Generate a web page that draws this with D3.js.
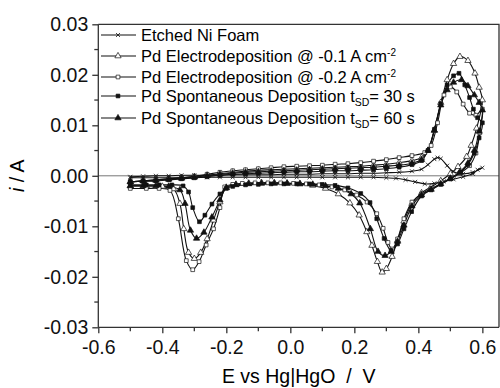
<!DOCTYPE html>
<html>
<head>
<meta charset="utf-8">
<script src="https://cdn.jsdelivr.net/npm/d3@7"></script>
<style>
	body { margin: 0; background: #fff; }
	svg { font-family: "Liberation Sans", Arial, sans-serif; }
	.curve { fill: none; stroke: #111; stroke-width: 1.1; }
	.zero-line { stroke: #777; stroke-width: 1; }
	.axis path, .axis line { stroke: #333; stroke-width: 1.3; }
	.axis text { fill: #111; }
</style>
</head>
<body>
<div id="chart"></div>
<script>

// DATA  (E in V vs Hg|HgO, i in A) -- anodic sweep then cathodic sweep
const seriesNames = [
	"Etched Ni Foam",
	"Pd Electrodeposition @ -0.1 A cm",
	"Pd Electrodeposition @ -0.2 A cm",
	"Pd Spontaneous Deposition t",
	"Pd Spontaneous Deposition t"
];
const seriesSup = ["", "-2", "-2", "", ""];
const seriesSub = ["", "", "", "SD", "SD"];
const seriesTail = ["", "", "", "= 30 s", "= 60 s"];
const seriesMarkers = ["times", "triangleOpen", "squareOpen", "squareFilled", "triangleFilled"];

const niFoam = [
	[-0.5,-0.0002],[-0.46,-0.0001],[-0.42,0.0],[-0.38,0.0],[-0.34,0.0001],[-0.3,0.0001],[-0.26,0.0001],
	[-0.22,0.0001],[-0.18,0.0002],[-0.14,0.0002],[-0.1,0.0002],[-0.06,0.0002],[-0.02,0.0003],[0.02,0.0003],
	[0.06,0.0003],[0.1,0.0004],[0.14,0.0004],[0.18,0.0004],[0.22,0.0005],[0.26,0.0005],[0.3,0.0006],
	[0.34,0.0007],[0.38,0.0009],[0.41,0.0013],[0.43,0.0022],[0.45,0.0033],[0.46,0.0036],[0.47,0.0034],
	[0.49,0.0020],[0.51,0.0008],[0.54,0.0004],[0.57,0.0007],[0.6,0.0016],
	[0.585,0.0012],[0.57,0.0004],[0.54,-0.0002],[0.51,-0.0007],[0.48,-0.0011],[0.45,-0.0015],[0.42,-0.0016],
	[0.39,-0.0012],[0.36,-0.0008],[0.33,-0.0005],[0.3,-0.0004],[0.26,-0.0003],[0.22,-0.0003],[0.18,-0.0003],
	[0.14,-0.0003],[0.1,-0.0003],[0.06,-0.0003],[0.02,-0.0003],[-0.02,-0.0003],[-0.06,-0.0003],[-0.1,-0.0003],
	[-0.14,-0.0003],[-0.18,-0.0003],[-0.22,-0.0003],[-0.26,-0.0003],[-0.3,-0.0004],[-0.34,-0.0004],
	[-0.38,-0.0004],[-0.42,-0.0004],[-0.46,-0.0004],[-0.5,-0.0004]
];

const pdEd01 = [
	[-0.5,-0.0012],[-0.46,-0.0010],[-0.42,-0.0008],[-0.38,-0.0006],[-0.34,-0.0004],[-0.3,-0.0002],[-0.26,0.0001],
	[-0.22,0.0004],[-0.18,0.0007],[-0.14,0.0009],[-0.1,0.0011],[-0.06,0.0012],[-0.02,0.0013],[0.02,0.0014],
	[0.06,0.0015],[0.1,0.0016],[0.14,0.0017],[0.18,0.0018],[0.22,0.0019],[0.26,0.0021],[0.3,0.0023],
	[0.34,0.0026],[0.38,0.0030],[0.41,0.0036],[0.43,0.0050],[0.45,0.0090],[0.47,0.0145],[0.49,0.0190],
	[0.51,0.0222],[0.53,0.0236],[0.555,0.0228],[0.577,0.0203],[0.59,0.0175],[0.6,0.0150],
	[0.582,0.0094],[0.565,0.0060],[0.551,0.0038],[0.524,0.0018],[0.5,0.0004],[0.47,-0.0010],[0.44,-0.0022],
	[0.41,-0.0034],[0.38,-0.0055],[0.355,-0.0090],[0.335,-0.0128],[0.318,-0.0160],[0.3,-0.0184],[0.287,-0.0191],
	[0.272,-0.0170],[0.255,-0.0138],[0.239,-0.0111],[0.215,-0.0078],[0.186,-0.0054],[0.15,-0.0036],[0.11,-0.0025],
	[0.07,-0.0019],[0.03,-0.0016],[-0.01,-0.0015],[-0.05,-0.0014],[-0.09,-0.0014],[-0.13,-0.0015],[-0.17,-0.0017],
	[-0.2,-0.0023],[-0.22,-0.0052],[-0.24,-0.0088],[-0.26,-0.0125],[-0.28,-0.0152],[-0.3,-0.0164],[-0.318,-0.0152],
	[-0.333,-0.0105],[-0.345,-0.0055],[-0.365,-0.0026],[-0.4,-0.0021],[-0.45,-0.0020],[-0.5,-0.0020]
];

const pdEd02 = [
	[-0.5,-0.0012],[-0.46,-0.0010],[-0.42,-0.0008],[-0.38,-0.0006],[-0.34,-0.0004],[-0.3,-0.0001],[-0.26,0.0003],
	[-0.22,0.0007],[-0.18,0.0010],[-0.14,0.0012],[-0.1,0.0014],[-0.06,0.0016],[-0.02,0.0018],[0.02,0.0019],
	[0.06,0.0020],[0.1,0.0021],[0.14,0.0023],[0.18,0.0024],[0.22,0.0026],[0.26,0.0029],[0.3,0.0032],
	[0.34,0.0036],[0.38,0.0040],[0.42,0.0046],[0.44,0.0060],[0.46,0.0105],[0.48,0.0160],[0.5,0.0176],
	[0.52,0.0166],[0.54,0.0142],[0.56,0.0124],[0.58,0.0120],[0.6,0.0132],
	[0.592,0.0085],[0.58,0.0045],[0.56,0.0020],[0.53,0.0005],[0.5,-0.0006],[0.47,-0.0016],[0.44,-0.0025],
	[0.41,-0.0036],[0.38,-0.0052],[0.355,-0.0085],[0.335,-0.0125],[0.318,-0.0145],[0.305,-0.0132],[0.29,-0.0104],
	[0.27,-0.0075],[0.24,-0.0052],[0.207,-0.0038],[0.17,-0.0028],[0.13,-0.0022],[0.09,-0.0018],[0.05,-0.0016],
	[0.01,-0.0015],[-0.03,-0.0014],[-0.07,-0.0014],[-0.11,-0.0014],[-0.15,-0.0015],[-0.18,-0.0017],[-0.205,-0.0022],
	[-0.22,-0.0063],[-0.24,-0.0105],[-0.263,-0.0137],[-0.285,-0.0170],[-0.305,-0.0186],[-0.325,-0.0168],
	[-0.35,-0.0085],[-0.376,-0.0029],[-0.41,-0.0025],[-0.45,-0.0025],[-0.5,-0.0025]
];

const pdSd30 = [
	[-0.5,-0.0012],[-0.46,-0.0011],[-0.42,-0.0010],[-0.38,-0.0008],[-0.34,-0.0006],[-0.3,-0.0004],[-0.26,-0.0002],
	[-0.22,0.0001],[-0.18,0.0003],[-0.14,0.0004],[-0.1,0.0005],[-0.06,0.0006],[-0.02,0.0007],[0.02,0.0008],
	[0.06,0.0008],[0.1,0.0009],[0.14,0.0010],[0.18,0.0010],[0.22,0.0011],[0.26,0.0012],[0.3,0.0014],
	[0.34,0.0017],[0.38,0.0022],[0.41,0.0030],[0.43,0.0050],[0.45,0.0092],[0.47,0.0143],[0.49,0.0180],
	[0.51,0.0198],[0.527,0.0203],[0.545,0.0180],[0.56,0.0155],[0.572,0.0132],[0.585,0.0115],[0.6,0.0105],
	[0.59,0.0075],[0.575,0.0045],[0.555,0.0022],[0.53,0.0006],[0.5,-0.0006],[0.47,-0.0017],[0.44,-0.0028],
	[0.41,-0.0040],[0.379,-0.0071],[0.355,-0.0105],[0.335,-0.0135],[0.315,-0.0148],[0.293,-0.0124],[0.27,-0.0085],
	[0.249,-0.0053],[0.22,-0.0035],[0.18,-0.0024],[0.14,-0.0019],[0.1,-0.0017],[0.06,-0.0016],[0.02,-0.0016],
	[-0.02,-0.0016],[-0.06,-0.0016],[-0.1,-0.0017],[-0.14,-0.0018],[-0.18,-0.0021],[-0.2,-0.0025],[-0.22,-0.0036],
	[-0.245,-0.0056],[-0.267,-0.0078],[-0.284,-0.0091],[-0.305,-0.0063],[-0.318,-0.0032],[-0.335,-0.0020],
	[-0.37,-0.0018],[-0.41,-0.0018],[-0.45,-0.0018],[-0.5,-0.0018]
];

const pdSd60 = [
	[-0.5,-0.0012],[-0.46,-0.0010],[-0.42,-0.0009],[-0.38,-0.0007],[-0.34,-0.0005],[-0.3,-0.0003],[-0.26,0.0],
	[-0.22,0.0003],[-0.18,0.0005],[-0.14,0.0007],[-0.1,0.0008],[-0.06,0.0009],[-0.02,0.0010],[0.02,0.0011],
	[0.06,0.0012],[0.1,0.0013],[0.14,0.0014],[0.18,0.0015],[0.22,0.0016],[0.26,0.0017],[0.3,0.0019],
	[0.34,0.0021],[0.38,0.0025],[0.41,0.0032],[0.43,0.0050],[0.45,0.0090],[0.47,0.0140],[0.49,0.0170],
	[0.51,0.0185],[0.535,0.0190],[0.555,0.0178],[0.575,0.0160],[0.59,0.0145],[0.6,0.0130],
	[0.59,0.0088],[0.575,0.0050],[0.555,0.0025],[0.53,0.0008],[0.5,-0.0005],[0.47,-0.0016],[0.44,-0.0027],
	[0.41,-0.0038],[0.38,-0.0060],[0.355,-0.0098],[0.335,-0.0130],[0.315,-0.0150],[0.296,-0.0158],[0.274,-0.0150],
	[0.25,-0.0105],[0.217,-0.0054],[0.19,-0.0036],[0.15,-0.0025],[0.11,-0.0020],[0.07,-0.0017],[0.03,-0.0016],
	[-0.01,-0.0015],[-0.05,-0.0015],[-0.09,-0.0015],[-0.13,-0.0016],[-0.17,-0.0018],[-0.2,-0.0024],[-0.22,-0.0048],
	[-0.245,-0.0082],[-0.27,-0.0112],[-0.293,-0.0124],[-0.312,-0.0108],[-0.329,-0.0055],[-0.345,-0.0028],
	[-0.38,-0.0021],[-0.42,-0.0020],[-0.46,-0.0020],[-0.5,-0.0020]
];

const xTicks = [-0.6, -0.4, -0.2, 0.0, 0.2, 0.4, 0.6];
const xTickLabels = ["-0.6", "-0.4", "-0.2", "0.0", "0.2", "0.4", "0.6"];
const xMinorTicks = [-0.5, -0.3, -0.1, 0.1, 0.3, 0.5];
const yTicks = [-0.03, -0.02, -0.01, 0.0, 0.01, 0.02, 0.03];
const yTickLabels = ["-0.03", "-0.02", "-0.01", "0.00", "0.01", "0.02", "0.03"];
const yMinorTicks = [-0.025, -0.015, -0.005, 0.005, 0.015, 0.025];

let CVFigure = class CVFigure {

	constructor(mainDivId) {
		this.W = 500;
		this.H = 388;
		this.left = 98.3;
		this.right = 499;
		this.top = 24.3;
		this.bottom = 327.3;

		// Scales
		this.x = d3.scaleLinear().domain([-0.6, 0.652]).range([this.left, this.right]);
		this.y = d3.scaleLinear().domain([-0.03, 0.03]).range([this.bottom, this.top]);

		this.valueline = d3.line()
			.x(d => this.x(d[0]))
			.y(d => this.y(d[1]))
			.curve(d3.curveCatmullRom.alpha(0.5));

		this.svg = d3.select("#" + mainDivId)
			.append("svg")
				.attr("width", this.W)
				.attr("height", this.H);
	}

	drawAxes() {
		// ZERO LINE
		this.svg.append("line")
			.attr("class", "zero-line")
			.attr("x1", this.left).attr("x2", this.right)
			.attr("y1", this.y(0)).attr("y2", this.y(0));

		// FRAME top / right
		this.svg.append("path")
			.attr("d", `M${this.left},${this.top}H${this.right}V${this.bottom}`)
			.attr("fill", "none")
			.attr("stroke", "#333")
			.attr("stroke-width", 1.3);

		// X-AXIS
		const xAxis = this.svg.append("g")
			.attr("class", "x axis")
			.attr("transform", "translate(0," + this.bottom + ")")
			.call(d3.axisBottom(this.x).tickValues(xTicks).tickSize(6).tickPadding(7)
				.tickFormat((d, i) => xTickLabels[i]));
		xAxis.select(".domain").attr("d", `M${this.left},0H${this.right}`);
		xAxis.selectAll("text").style("font-size", "19.5px");
		xAxis.selectAll(".minor").data(xMinorTicks).enter().append("line")
			.attr("x1", d => this.x(d)).attr("x2", d => this.x(d))
			.attr("y1", 0).attr("y2", 4);

		// Y-AXIS
		const yAxis = this.svg.append("g")
			.attr("class", "y axis")
			.attr("transform", "translate(" + this.left + ",0)")
			.call(d3.axisLeft(this.y).tickValues(yTicks).tickSize(6).tickPadding(4)
				.tickFormat((d, i) => yTickLabels[i]));
		yAxis.select(".domain").attr("d", `M0,${this.top}V${this.bottom}`);
		yAxis.selectAll("text").style("font-size", "19.5px");
		yAxis.selectAll(".minor").data(yMinorTicks).enter().append("line")
			.attr("y1", d => this.y(d)).attr("y2", d => this.y(d))
			.attr("x1", 0).attr("x2", -4);

		// LABELS
		this.svg.append("text")
			.attr("x", (this.left + this.right) / 2)
			.attr("y", 383)
			.style("text-anchor", "middle")
			.style("font-size", "19.5px")
			.attr("xml:space", "preserve")
			.text("E vs Hg|HgO  /  V");

		const yl = this.svg.append("text")
			.attr("transform", "translate(24," + this.y(0) + ") rotate(-90)")
			.style("text-anchor", "middle")
			.style("font-size", "19.5px")
			.attr("xml:space", "preserve");
		yl.append("tspan").style("font-style", "italic").text("i");
		yl.append("tspan").text(" / A");
	}

	marker(sel, kind) {
		// MARKERS
		if (kind == "times") {
			sel.append("path")
				.attr("d", d3.symbol(d3.symbolTimes, 12)())
				.attr("fill", "none").attr("stroke", "#111").attr("stroke-width", 0.8);
		} else {
			const type = kind.startsWith("square") ? d3.symbolSquare : d3.symbolTriangle;
			const size = kind.startsWith("square") ? 14 : 17;
			const filled = kind.endsWith("Filled");
			sel.append("path")
				.attr("d", d3.symbol(type, size)())
				.attr("fill", filled ? "#111" : "#fff")
				.attr("stroke", "#111").attr("stroke-width", 0.7);
		}
	}

	drawCurves(allSeries) {
		allSeries.forEach((data, k) => {
			this.svg.append("path")
				.datum(data)
				.attr("class", "curve")
				.attr("d", this.valueline);
		});
		allSeries.forEach((data, k) => {
			const g = this.svg.append("g").selectAll("g")
				.data(data).enter().append("g")
				.attr("transform", d => "translate(" + this.x(d[0]) + "," + this.y(d[1]) + ")");
			this.marker(g, seriesMarkers[k]);
		});
	}

	drawLegend() {
		const rowY = [35, 56, 77, 96, 118];
		seriesNames.forEach((name, k) => {
			const g = this.svg.append("g").attr("transform", "translate(0," + rowY[k] + ")");
			g.append("line")
				.attr("x1", 101).attr("x2", 136).attr("y1", 0).attr("y2", 0)
				.attr("stroke", "#111").attr("stroke-width", 1.1);
			this.marker(g.append("g").attr("transform", "translate(118,0)"), seriesMarkers[k]);
			const t = g.append("text")
				.attr("x", 141)
				.attr("dy", "0.36em")
				.style("font-size", "16.5px");
			t.append("tspan").text(name);
			if (seriesSup[k]) {
				t.append("tspan").attr("dy", -6).style("font-size", "10px").text(seriesSup[k]);
			}
			if (seriesSub[k]) {
				t.append("tspan").attr("dy", 4).style("font-size", "10.5px").text(seriesSub[k]);
				t.append("tspan").attr("dy", -4).text(seriesTail[k]);
			}
		});
	}
}

const fig = new CVFigure("chart");
fig.drawAxes();
fig.drawCurves([niFoam, pdEd01, pdEd02, pdSd30, pdSd60]);
fig.drawLegend();

</script>
</body>
</html>
